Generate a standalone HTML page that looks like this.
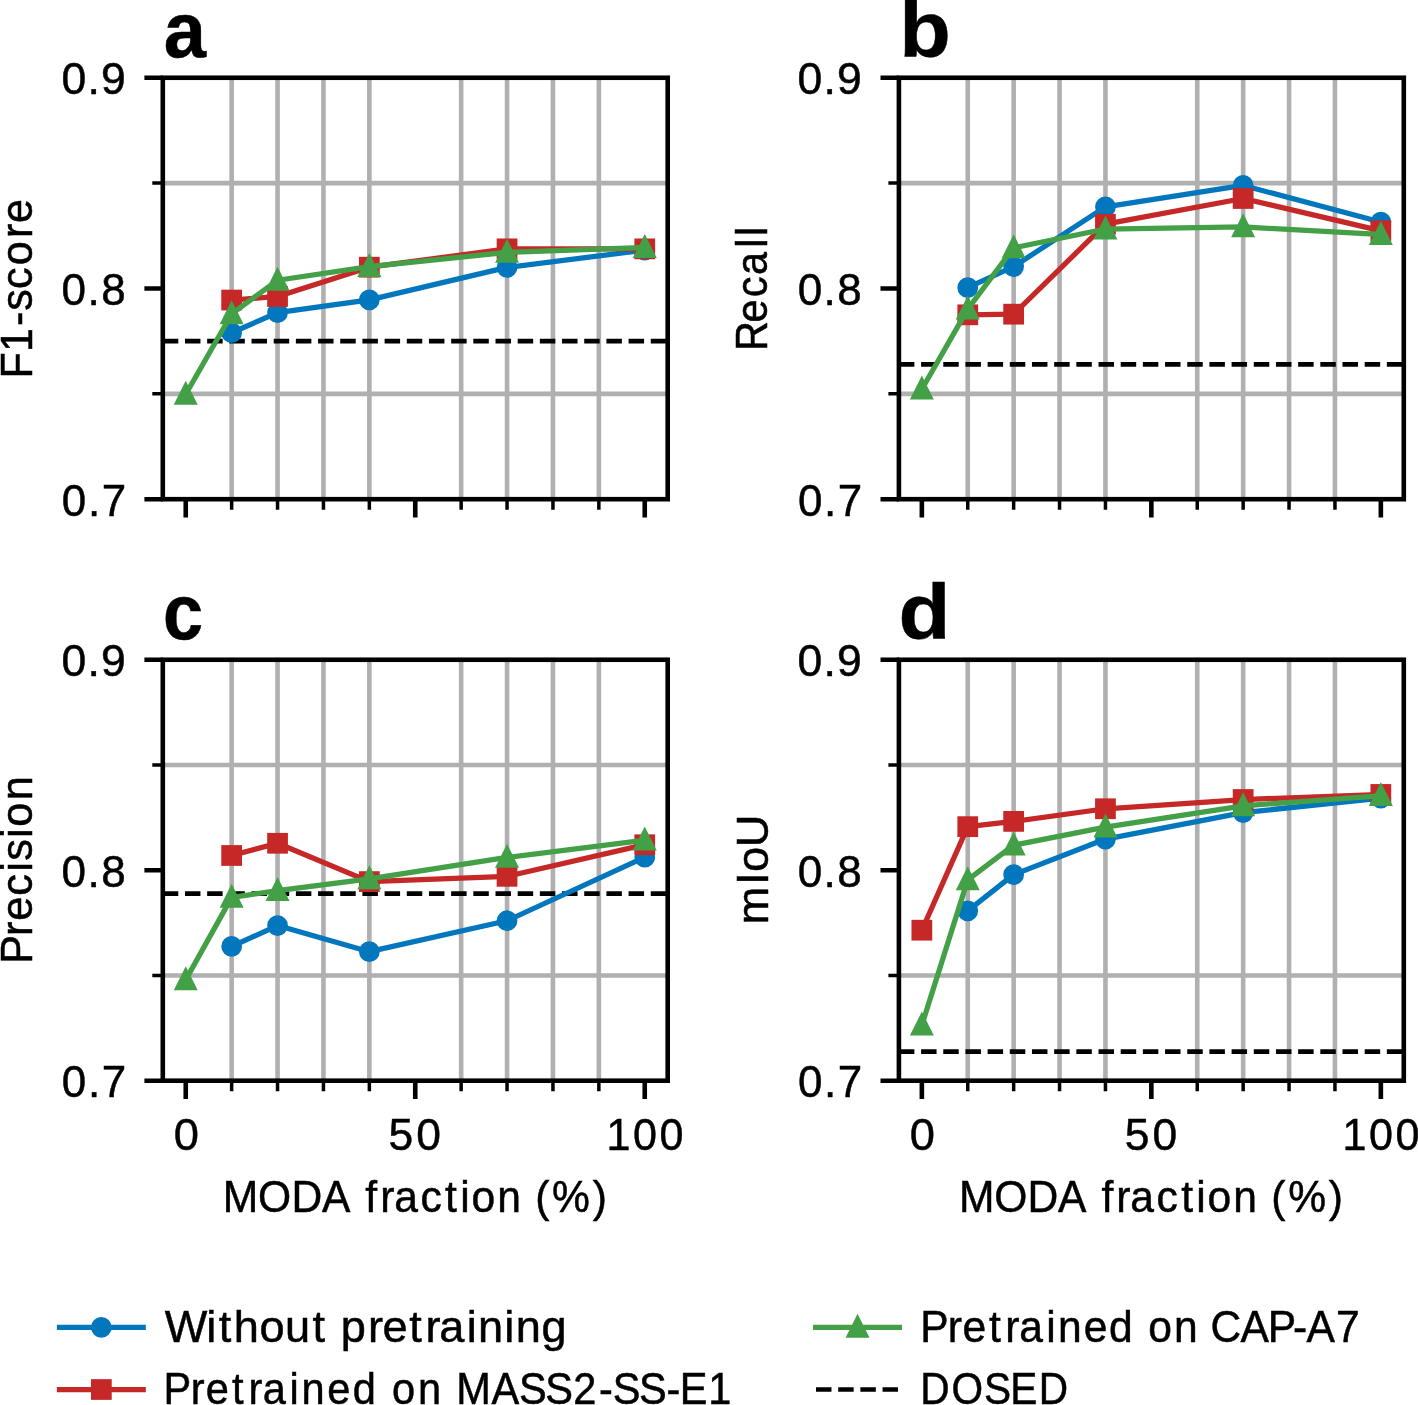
<!DOCTYPE html>
<html><head><meta charset="utf-8"><title>MODA fraction results</title>
<style>html,body{margin:0;padding:0;background:#fff;width:1418px;height:1405px;overflow:hidden}svg{display:block;will-change:transform}text{font-family:"Liberation Sans", sans-serif;font-kerning:none;fill:#000;stroke:#000;stroke-width:0.5px;vector-effect:non-scaling-stroke}</style></head>
<body><svg width="1418" height="1405" viewBox="0 0 1418 1405">
<rect width="1418" height="1405" fill="#fff"/>
<path d="M231.65 77.75V499.20M277.55 77.75V499.20M323.45 77.75V499.20M369.35 77.75V499.20M461.15 77.75V499.20M507.05 77.75V499.20M552.95 77.75V499.20M598.85 77.75V499.20M162.80 393.84H667.70M162.80 183.11H667.70" stroke="#b0b0b0" stroke-width="4.6" fill="none"/>
<path d="M162.80 341.16H667.70" stroke="#000" stroke-width="4.7" stroke-dasharray="15.48 6.70" fill="none"/>
<path d="M231.65 332.73L277.55 312.71L369.35 299.85L507.05 267.40L644.75 250.12" stroke="#0277BD" stroke-width="5.25" fill="none" stroke-linejoin="round" stroke-linecap="square"/>
<circle cx="231.65" cy="332.73" r="7.750" fill="#0277BD" stroke="#0277BD" stroke-width="5.25"/>
<circle cx="277.55" cy="312.71" r="7.750" fill="#0277BD" stroke="#0277BD" stroke-width="5.25"/>
<circle cx="369.35" cy="299.85" r="7.750" fill="#0277BD" stroke="#0277BD" stroke-width="5.25"/>
<circle cx="507.05" cy="267.40" r="7.750" fill="#0277BD" stroke="#0277BD" stroke-width="5.25"/>
<circle cx="644.75" cy="250.12" r="7.750" fill="#0277BD" stroke="#0277BD" stroke-width="5.25"/>
<path d="M231.65 300.06L277.55 296.48L369.35 267.19L507.05 248.86L644.75 248.86" stroke="#C62828" stroke-width="5.25" fill="none" stroke-linejoin="round" stroke-linecap="square"/>
<rect x="223.90" y="292.31" width="15.5" height="15.5" fill="#C62828" stroke="#C62828" stroke-width="5.25" stroke-linejoin="miter"/>
<rect x="269.80" y="288.73" width="15.5" height="15.5" fill="#C62828" stroke="#C62828" stroke-width="5.25" stroke-linejoin="miter"/>
<rect x="361.60" y="259.44" width="15.5" height="15.5" fill="#C62828" stroke="#C62828" stroke-width="5.25" stroke-linejoin="miter"/>
<rect x="499.30" y="241.11" width="15.5" height="15.5" fill="#C62828" stroke="#C62828" stroke-width="5.25" stroke-linejoin="miter"/>
<rect x="637.00" y="241.11" width="15.5" height="15.5" fill="#C62828" stroke="#C62828" stroke-width="5.25" stroke-linejoin="miter"/>
<path d="M185.75 394.26L231.65 313.97L277.55 280.26L369.35 266.56L507.05 252.44L644.75 247.59" stroke="#43A047" stroke-width="5.25" fill="none" stroke-linejoin="round" stroke-linecap="square"/>
<path d="M185.75 386.51L178.00 402.01L193.50 402.01Z" fill="#43A047" stroke="#43A047" stroke-width="5.25" stroke-linejoin="miter" stroke-miterlimit="10"/>
<path d="M231.65 306.22L223.90 321.72L239.40 321.72Z" fill="#43A047" stroke="#43A047" stroke-width="5.25" stroke-linejoin="miter" stroke-miterlimit="10"/>
<path d="M277.55 272.51L269.80 288.01L285.30 288.01Z" fill="#43A047" stroke="#43A047" stroke-width="5.25" stroke-linejoin="miter" stroke-miterlimit="10"/>
<path d="M369.35 258.81L361.60 274.31L377.10 274.31Z" fill="#43A047" stroke="#43A047" stroke-width="5.25" stroke-linejoin="miter" stroke-miterlimit="10"/>
<path d="M507.05 244.69L499.30 260.19L514.80 260.19Z" fill="#43A047" stroke="#43A047" stroke-width="5.25" stroke-linejoin="miter" stroke-miterlimit="10"/>
<path d="M644.75 239.84L637.00 255.34L652.50 255.34Z" fill="#43A047" stroke="#43A047" stroke-width="5.25" stroke-linejoin="miter" stroke-miterlimit="10"/>
<path d="M144.40 499.20H162.80M144.40 288.47H162.80M144.40 77.75H162.80M185.75 499.20V517.60M415.25 499.20V517.60M644.75 499.20V517.60" stroke="#000" stroke-width="4.6" fill="none"/>
<path d="M152.30 393.84H162.80M152.30 183.11H162.80M231.65 499.20V509.70M277.55 499.20V509.70M323.45 499.20V509.70M369.35 499.20V509.70M461.15 499.20V509.70M507.05 499.20V509.70M552.95 499.20V509.70M598.85 499.20V509.70" stroke="#000" stroke-width="3.5" fill="none"/>
<rect x="162.80" y="77.75" width="504.90" height="421.45" fill="none" stroke="#000" stroke-width="4.6" stroke-linejoin="miter"/>
<text transform="translate(63.40 94.05) scale(0.4454 0.4478)" x="-4.31 54.08 84.39" y="0" font-size="100" font-weight="normal">0.9</text>
<text transform="translate(63.40 304.77) scale(0.4405 0.4478)" x="-4.08 54.74 85.78" y="0" font-size="100" font-weight="normal">0.8</text>
<text transform="translate(63.40 515.50) scale(0.4393 0.4478)" x="-3.73 55.74 87.24" y="0" font-size="100" font-weight="normal">0.7</text>
<path d="M967.75 77.75V499.20M1013.65 77.75V499.20M1059.55 77.75V499.20M1105.45 77.75V499.20M1197.25 77.75V499.20M1243.15 77.75V499.20M1289.05 77.75V499.20M1334.95 77.75V499.20M898.90 393.84H1403.80M898.90 183.11H1403.80" stroke="#b0b0b0" stroke-width="4.6" fill="none"/>
<path d="M898.90 364.34H1403.80" stroke="#000" stroke-width="4.7" stroke-dasharray="15.48 6.70" fill="none"/>
<path d="M967.75 287.63L1013.65 266.56L1105.45 206.92L1243.15 185.43L1380.85 222.10" stroke="#0277BD" stroke-width="5.25" fill="none" stroke-linejoin="round" stroke-linecap="square"/>
<circle cx="967.75" cy="287.63" r="7.750" fill="#0277BD" stroke="#0277BD" stroke-width="5.25"/>
<circle cx="1013.65" cy="266.56" r="7.750" fill="#0277BD" stroke="#0277BD" stroke-width="5.25"/>
<circle cx="1105.45" cy="206.92" r="7.750" fill="#0277BD" stroke="#0277BD" stroke-width="5.25"/>
<circle cx="1243.15" cy="185.43" r="7.750" fill="#0277BD" stroke="#0277BD" stroke-width="5.25"/>
<circle cx="1380.85" cy="222.10" r="7.750" fill="#0277BD" stroke="#0277BD" stroke-width="5.25"/>
<path d="M967.75 314.82L1013.65 314.18L1105.45 224.20L1243.15 198.50L1380.85 230.74" stroke="#C62828" stroke-width="5.25" fill="none" stroke-linejoin="round" stroke-linecap="square"/>
<rect x="960.00" y="307.07" width="15.5" height="15.5" fill="#C62828" stroke="#C62828" stroke-width="5.25" stroke-linejoin="miter"/>
<rect x="1005.90" y="306.43" width="15.5" height="15.5" fill="#C62828" stroke="#C62828" stroke-width="5.25" stroke-linejoin="miter"/>
<rect x="1097.70" y="216.45" width="15.5" height="15.5" fill="#C62828" stroke="#C62828" stroke-width="5.25" stroke-linejoin="miter"/>
<rect x="1235.40" y="190.75" width="15.5" height="15.5" fill="#C62828" stroke="#C62828" stroke-width="5.25" stroke-linejoin="miter"/>
<rect x="1373.10" y="222.99" width="15.5" height="15.5" fill="#C62828" stroke="#C62828" stroke-width="5.25" stroke-linejoin="miter"/>
<path d="M921.85 389.20L967.75 309.13L1013.65 247.81L1105.45 229.05L1243.15 226.94L1380.85 234.53" stroke="#43A047" stroke-width="5.25" fill="none" stroke-linejoin="round" stroke-linecap="square"/>
<path d="M921.85 381.45L914.10 396.95L929.60 396.95Z" fill="#43A047" stroke="#43A047" stroke-width="5.25" stroke-linejoin="miter" stroke-miterlimit="10"/>
<path d="M967.75 301.38L960.00 316.88L975.50 316.88Z" fill="#43A047" stroke="#43A047" stroke-width="5.25" stroke-linejoin="miter" stroke-miterlimit="10"/>
<path d="M1013.65 240.06L1005.90 255.56L1021.40 255.56Z" fill="#43A047" stroke="#43A047" stroke-width="5.25" stroke-linejoin="miter" stroke-miterlimit="10"/>
<path d="M1105.45 221.30L1097.70 236.80L1113.20 236.80Z" fill="#43A047" stroke="#43A047" stroke-width="5.25" stroke-linejoin="miter" stroke-miterlimit="10"/>
<path d="M1243.15 219.19L1235.40 234.69L1250.90 234.69Z" fill="#43A047" stroke="#43A047" stroke-width="5.25" stroke-linejoin="miter" stroke-miterlimit="10"/>
<path d="M1380.85 226.78L1373.10 242.28L1388.60 242.28Z" fill="#43A047" stroke="#43A047" stroke-width="5.25" stroke-linejoin="miter" stroke-miterlimit="10"/>
<path d="M880.50 499.20H898.90M880.50 288.47H898.90M880.50 77.75H898.90M921.85 499.20V517.60M1151.35 499.20V517.60M1380.85 499.20V517.60" stroke="#000" stroke-width="4.6" fill="none"/>
<path d="M888.40 393.84H898.90M888.40 183.11H898.90M967.75 499.20V509.70M1013.65 499.20V509.70M1059.55 499.20V509.70M1105.45 499.20V509.70M1197.25 499.20V509.70M1243.15 499.20V509.70M1289.05 499.20V509.70M1334.95 499.20V509.70" stroke="#000" stroke-width="3.5" fill="none"/>
<rect x="898.90" y="77.75" width="504.90" height="421.45" fill="none" stroke="#000" stroke-width="4.6" stroke-linejoin="miter"/>
<text transform="translate(799.50 94.05) scale(0.4454 0.4478)" x="-4.31 54.08 84.39" y="0" font-size="100" font-weight="normal">0.9</text>
<text transform="translate(799.50 304.77) scale(0.4405 0.4478)" x="-4.08 54.74 85.78" y="0" font-size="100" font-weight="normal">0.8</text>
<text transform="translate(799.50 515.50) scale(0.4393 0.4478)" x="-3.73 55.74 87.24" y="0" font-size="100" font-weight="normal">0.7</text>
<path d="M231.65 659.75V1080.70M277.55 659.75V1080.70M323.45 659.75V1080.70M369.35 659.75V1080.70M461.15 659.75V1080.70M507.05 659.75V1080.70M552.95 659.75V1080.70M598.85 659.75V1080.70M162.80 975.46H667.70M162.80 764.99H667.70" stroke="#b0b0b0" stroke-width="4.6" fill="none"/>
<path d="M162.80 893.59H667.70" stroke="#000" stroke-width="4.7" stroke-dasharray="15.48 6.70" fill="none"/>
<path d="M231.65 946.42L277.55 925.58L369.35 951.68L507.05 920.74L644.75 857.18" stroke="#0277BD" stroke-width="5.25" fill="none" stroke-linejoin="round" stroke-linecap="square"/>
<circle cx="231.65" cy="946.42" r="7.750" fill="#0277BD" stroke="#0277BD" stroke-width="5.25"/>
<circle cx="277.55" cy="925.58" r="7.750" fill="#0277BD" stroke="#0277BD" stroke-width="5.25"/>
<circle cx="369.35" cy="951.68" r="7.750" fill="#0277BD" stroke="#0277BD" stroke-width="5.25"/>
<circle cx="507.05" cy="920.74" r="7.750" fill="#0277BD" stroke="#0277BD" stroke-width="5.25"/>
<circle cx="644.75" cy="857.18" r="7.750" fill="#0277BD" stroke="#0277BD" stroke-width="5.25"/>
<path d="M231.65 855.49L277.55 843.28L369.35 881.59L507.05 876.33L644.75 844.76" stroke="#C62828" stroke-width="5.25" fill="none" stroke-linejoin="round" stroke-linecap="square"/>
<rect x="223.90" y="847.74" width="15.5" height="15.5" fill="#C62828" stroke="#C62828" stroke-width="5.25" stroke-linejoin="miter"/>
<rect x="269.80" y="835.53" width="15.5" height="15.5" fill="#C62828" stroke="#C62828" stroke-width="5.25" stroke-linejoin="miter"/>
<rect x="361.60" y="873.84" width="15.5" height="15.5" fill="#C62828" stroke="#C62828" stroke-width="5.25" stroke-linejoin="miter"/>
<rect x="499.30" y="868.58" width="15.5" height="15.5" fill="#C62828" stroke="#C62828" stroke-width="5.25" stroke-linejoin="miter"/>
<rect x="637.00" y="837.01" width="15.5" height="15.5" fill="#C62828" stroke="#C62828" stroke-width="5.25" stroke-linejoin="miter"/>
<path d="M185.75 979.88L231.65 897.38L277.55 890.64L369.35 878.85L507.05 857.39L644.75 840.13" stroke="#43A047" stroke-width="5.25" fill="none" stroke-linejoin="round" stroke-linecap="square"/>
<path d="M185.75 972.13L178.00 987.63L193.50 987.63Z" fill="#43A047" stroke="#43A047" stroke-width="5.25" stroke-linejoin="miter" stroke-miterlimit="10"/>
<path d="M231.65 889.63L223.90 905.13L239.40 905.13Z" fill="#43A047" stroke="#43A047" stroke-width="5.25" stroke-linejoin="miter" stroke-miterlimit="10"/>
<path d="M277.55 882.89L269.80 898.39L285.30 898.39Z" fill="#43A047" stroke="#43A047" stroke-width="5.25" stroke-linejoin="miter" stroke-miterlimit="10"/>
<path d="M369.35 871.10L361.60 886.60L377.10 886.60Z" fill="#43A047" stroke="#43A047" stroke-width="5.25" stroke-linejoin="miter" stroke-miterlimit="10"/>
<path d="M507.05 849.64L499.30 865.14L514.80 865.14Z" fill="#43A047" stroke="#43A047" stroke-width="5.25" stroke-linejoin="miter" stroke-miterlimit="10"/>
<path d="M644.75 832.38L637.00 847.88L652.50 847.88Z" fill="#43A047" stroke="#43A047" stroke-width="5.25" stroke-linejoin="miter" stroke-miterlimit="10"/>
<path d="M144.40 1080.70H162.80M144.40 870.22H162.80M144.40 659.75H162.80M185.75 1080.70V1099.10M415.25 1080.70V1099.10M644.75 1080.70V1099.10" stroke="#000" stroke-width="4.6" fill="none"/>
<path d="M152.30 975.46H162.80M152.30 764.99H162.80M231.65 1080.70V1091.20M277.55 1080.70V1091.20M323.45 1080.70V1091.20M369.35 1080.70V1091.20M461.15 1080.70V1091.20M507.05 1080.70V1091.20M552.95 1080.70V1091.20M598.85 1080.70V1091.20" stroke="#000" stroke-width="3.5" fill="none"/>
<rect x="162.80" y="659.75" width="504.90" height="420.95" fill="none" stroke="#000" stroke-width="4.6" stroke-linejoin="miter"/>
<text transform="translate(63.40 676.05) scale(0.4454 0.4478)" x="-4.31 54.08 84.39" y="0" font-size="100" font-weight="normal">0.9</text>
<text transform="translate(63.40 886.52) scale(0.4405 0.4478)" x="-4.08 54.74 85.78" y="0" font-size="100" font-weight="normal">0.8</text>
<text transform="translate(63.40 1097.00) scale(0.4393 0.4478)" x="-3.73 55.74 87.24" y="0" font-size="100" font-weight="normal">0.7</text>
<path d="M967.75 659.75V1080.70M1013.65 659.75V1080.70M1059.55 659.75V1080.70M1105.45 659.75V1080.70M1197.25 659.75V1080.70M1243.15 659.75V1080.70M1289.05 659.75V1080.70M1334.95 659.75V1080.70M898.90 975.46H1403.80M898.90 764.99H1403.80" stroke="#b0b0b0" stroke-width="4.6" fill="none"/>
<path d="M898.90 1051.65H1403.80" stroke="#000" stroke-width="4.7" stroke-dasharray="15.48 6.70" fill="none"/>
<path d="M967.75 910.85L1013.65 874.64L1105.45 839.07L1243.15 812.55L1380.85 798.24" stroke="#0277BD" stroke-width="5.25" fill="none" stroke-linejoin="round" stroke-linecap="square"/>
<circle cx="967.75" cy="910.85" r="7.750" fill="#0277BD" stroke="#0277BD" stroke-width="5.25"/>
<circle cx="1013.65" cy="874.64" r="7.750" fill="#0277BD" stroke="#0277BD" stroke-width="5.25"/>
<circle cx="1105.45" cy="839.07" r="7.750" fill="#0277BD" stroke="#0277BD" stroke-width="5.25"/>
<circle cx="1243.15" cy="812.55" r="7.750" fill="#0277BD" stroke="#0277BD" stroke-width="5.25"/>
<circle cx="1380.85" cy="798.24" r="7.750" fill="#0277BD" stroke="#0277BD" stroke-width="5.25"/>
<path d="M921.85 930.21L967.75 826.66L1013.65 821.39L1105.45 808.77L1243.15 799.51L1380.85 794.45" stroke="#C62828" stroke-width="5.25" fill="none" stroke-linejoin="round" stroke-linecap="square"/>
<rect x="914.10" y="922.46" width="15.5" height="15.5" fill="#C62828" stroke="#C62828" stroke-width="5.25" stroke-linejoin="miter"/>
<rect x="960.00" y="818.91" width="15.5" height="15.5" fill="#C62828" stroke="#C62828" stroke-width="5.25" stroke-linejoin="miter"/>
<rect x="1005.90" y="813.64" width="15.5" height="15.5" fill="#C62828" stroke="#C62828" stroke-width="5.25" stroke-linejoin="miter"/>
<rect x="1097.70" y="801.02" width="15.5" height="15.5" fill="#C62828" stroke="#C62828" stroke-width="5.25" stroke-linejoin="miter"/>
<rect x="1235.40" y="791.76" width="15.5" height="15.5" fill="#C62828" stroke="#C62828" stroke-width="5.25" stroke-linejoin="miter"/>
<rect x="1373.10" y="786.70" width="15.5" height="15.5" fill="#C62828" stroke="#C62828" stroke-width="5.25" stroke-linejoin="miter"/>
<path d="M921.85 1025.13L967.75 879.91L1013.65 845.18L1105.45 827.08L1243.15 805.82L1380.85 795.72" stroke="#43A047" stroke-width="5.25" fill="none" stroke-linejoin="round" stroke-linecap="square"/>
<path d="M921.85 1017.38L914.10 1032.88L929.60 1032.88Z" fill="#43A047" stroke="#43A047" stroke-width="5.25" stroke-linejoin="miter" stroke-miterlimit="10"/>
<path d="M967.75 872.16L960.00 887.66L975.50 887.66Z" fill="#43A047" stroke="#43A047" stroke-width="5.25" stroke-linejoin="miter" stroke-miterlimit="10"/>
<path d="M1013.65 837.43L1005.90 852.93L1021.40 852.93Z" fill="#43A047" stroke="#43A047" stroke-width="5.25" stroke-linejoin="miter" stroke-miterlimit="10"/>
<path d="M1105.45 819.33L1097.70 834.83L1113.20 834.83Z" fill="#43A047" stroke="#43A047" stroke-width="5.25" stroke-linejoin="miter" stroke-miterlimit="10"/>
<path d="M1243.15 798.07L1235.40 813.57L1250.90 813.57Z" fill="#43A047" stroke="#43A047" stroke-width="5.25" stroke-linejoin="miter" stroke-miterlimit="10"/>
<path d="M1380.85 787.97L1373.10 803.47L1388.60 803.47Z" fill="#43A047" stroke="#43A047" stroke-width="5.25" stroke-linejoin="miter" stroke-miterlimit="10"/>
<path d="M880.50 1080.70H898.90M880.50 870.22H898.90M880.50 659.75H898.90M921.85 1080.70V1099.10M1151.35 1080.70V1099.10M1380.85 1080.70V1099.10" stroke="#000" stroke-width="4.6" fill="none"/>
<path d="M888.40 975.46H898.90M888.40 764.99H898.90M967.75 1080.70V1091.20M1013.65 1080.70V1091.20M1059.55 1080.70V1091.20M1105.45 1080.70V1091.20M1197.25 1080.70V1091.20M1243.15 1080.70V1091.20M1289.05 1080.70V1091.20M1334.95 1080.70V1091.20" stroke="#000" stroke-width="3.5" fill="none"/>
<rect x="898.90" y="659.75" width="504.90" height="420.95" fill="none" stroke="#000" stroke-width="4.6" stroke-linejoin="miter"/>
<text transform="translate(799.50 676.05) scale(0.4454 0.4478)" x="-4.31 54.08 84.39" y="0" font-size="100" font-weight="normal">0.9</text>
<text transform="translate(799.50 886.52) scale(0.4405 0.4478)" x="-4.08 54.74 85.78" y="0" font-size="100" font-weight="normal">0.8</text>
<text transform="translate(799.50 1097.00) scale(0.4393 0.4478)" x="-3.73 55.74 87.24" y="0" font-size="100" font-weight="normal">0.7</text>
<text transform="translate(175.40 1149.90) scale(0.4531 0.4478)" x="-3.91" y="0" font-size="100" font-weight="normal">0</text>
<text transform="translate(390.66 1149.90) scale(0.4442 0.4478)" x="-4.69 57.78" y="0" font-size="100" font-weight="normal">50</text>
<text transform="translate(610.00 1149.90) scale(0.4308 0.4478)" x="-8.29 53.41 114.62" y="0" font-size="100" font-weight="normal">100</text>
<text transform="translate(226.80 1212.00) scale(0.4262 0.4478)" x="-9.32 73.42 151.84 223.18 289.72 324.96 359.86 392.81 454.45 512.10 547.66 574.06 634.62 692.94 723.50 763.19 858.49" y="0" font-size="100" font-weight="normal">MODA fraction (%)</text>
<text transform="translate(911.50 1149.90) scale(0.4531 0.4478)" x="-3.91" y="0" font-size="100" font-weight="normal">0</text>
<text transform="translate(1126.76 1149.90) scale(0.4442 0.4478)" x="-4.69 57.78" y="0" font-size="100" font-weight="normal">50</text>
<text transform="translate(1346.10 1149.90) scale(0.4308 0.4478)" x="-8.29 53.41 114.62" y="0" font-size="100" font-weight="normal">100</text>
<text transform="translate(962.90 1212.00) scale(0.4262 0.4478)" x="-9.32 73.42 151.84 223.18 289.72 324.96 359.86 392.81 454.45 512.10 547.66 574.06 634.62 692.94 723.50 763.19 858.49" y="0" font-size="100" font-weight="normal">MODA fraction (%)</text>
<text transform="translate(32.20 373.35) rotate(-90) scale(0.4306 0.4478)" x="-12.16 49.43 109.84 145.28 195.82 250.96 314.06 349.12" y="0" font-size="100">F1-score</text>
<text transform="translate(766.90 347.15) rotate(-90) scale(0.4151 0.4478)" x="-9.04 59.71 120.35 174.08 239.72 267.95" y="0" font-size="100">Recall</text>
<text transform="translate(32.10 958.65) rotate(-90) scale(0.4336 0.4478)" x="-11.97 52.52 87.27 145.28 200.53 226.03 278.06 304.51 365.15" y="0" font-size="100">Precision</text>
<text transform="translate(767.90 922.60) rotate(-90) scale(0.4538 0.4478)" x="-4.27 82.70 111.30 165.94" y="0" font-size="100">mIoU</text>
<text transform="translate(163.71 57.02) scale(0.7589 0.7782)" font-size="100" font-weight="bold">a</text>
<text transform="translate(899.22 56.72) scale(0.8436 0.7782)" font-size="100" font-weight="bold">b</text>
<text transform="translate(163.10 638.72) scale(0.7204 0.7800)" font-size="100" font-weight="bold">c</text>
<text transform="translate(898.50 639.22) scale(0.8495 0.7782)" font-size="100" font-weight="bold">d</text>
<path d="M59.5 1327.4H143.2" stroke="#0277BD" stroke-width="5.25" stroke-linecap="square" fill="none"/>
<circle cx="101.35" cy="1327.40" r="7.750" fill="#0277BD" stroke="#0277BD" stroke-width="5.25"/>
<path d="M59.5 1389.5H143.2" stroke="#C62828" stroke-width="5.25" stroke-linecap="square" fill="none"/>
<rect x="93.60" y="1381.75" width="15.5" height="15.5" fill="#C62828" stroke="#C62828" stroke-width="5.25" stroke-linejoin="miter"/>
<path d="M815.7 1327.4H899.4" stroke="#43A047" stroke-width="5.25" stroke-linecap="square" fill="none"/>
<path d="M857.55 1319.65L849.80 1335.15L865.30 1335.15Z" fill="#43A047" stroke="#43A047" stroke-width="5.25" stroke-linejoin="miter" stroke-miterlimit="10"/>
<path d="M816.0 1389.5H899.4" stroke="#000" stroke-width="4.7" stroke-dasharray="15.48 6.70" fill="none"/>
<text transform="translate(167.16 1341.90) scale(0.4517 0.4478)" x="-5.11 86.81 114.30 147.52 204.36 261.00 321.69 353.73 384.45 444.48 476.65 536.11 571.93 602.33 663.26 688.32 746.49 771.55 828.76" y="0" font-size="100" font-weight="normal">Without pretraining</text>
<text transform="translate(168.20 1404.40) scale(0.4158 0.4478)" x="-11.41 54.30 90.12 153.69 193.15 227.23 291.93 320.73 382.83 444.15 504.17 538.43 600.57 659.68 692.58 777.76 843.91 907.05 973.93 1036.01 1069.36 1132.49 1198.17 1230.59 1298.95" y="0" font-size="100" font-weight="normal">Pretrained on MASS2-SS-E1</text>
<text transform="translate(925.40 1341.90) scale(0.4260 0.4478)" x="-12.04 52.30 86.90 149.10 187.35 220.21 283.66 311.22 371.62 431.30 490.41 522.98 583.42 641.68 669.56 739.70 803.62 863.14 894.79 964.01" y="0" font-size="100" font-weight="normal">Pretrained on CAP-A7</text>
<text transform="translate(922.60 1404.40) scale(0.4059 0.4478)" x="-6.10 71.43 151.10 215.92 286.22" y="0" font-size="100" font-weight="normal">DOSED</text>
</svg></body></html>
